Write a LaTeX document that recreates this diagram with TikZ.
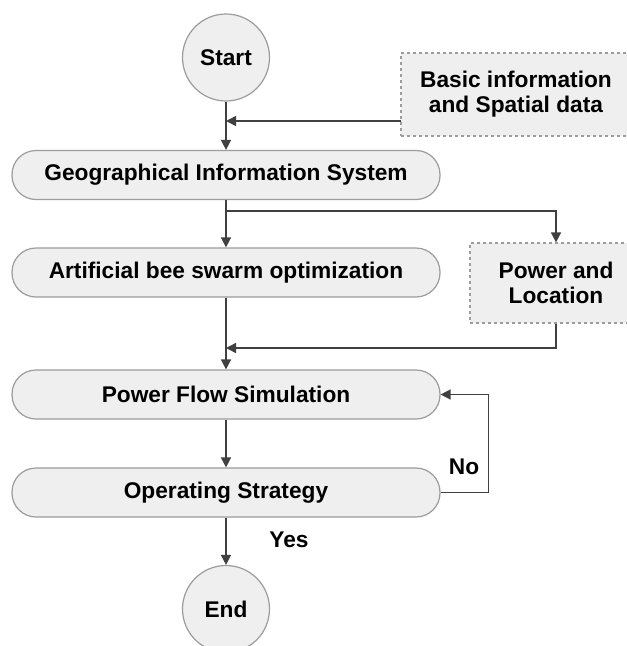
\documentclass[tikz,border=0pt]{standalone}
\usepackage{fontspec}
\setmainfont{Liberation Sans}
\usetikzlibrary{arrows.meta}
\definecolor{boxfill}{HTML}{EFEFEF}
\definecolor{boxline}{HTML}{9C9C9C}
\definecolor{arrcol}{HTML}{404040}
\begin{document}
\begin{tikzpicture}[x=1pt,y=-1pt,
  txt/.style={font=\fontsize{22.7}{25}\selectfont\bfseries, text=black},
  proc/.style={txt, draw=boxline, fill=boxfill, line width=1.2pt, rounded corners=24pt,
    minimum width=428pt, minimum height=49pt, inner sep=0pt},
  term/.style={txt, circle, draw=boxline, fill=boxfill, line width=1.2pt, minimum size=87pt, inner sep=0pt},
  datab/.style={txt, draw=boxline, fill=boxfill, dashed, line width=1.2pt, align=center, inner sep=0pt},
  flow/.style={draw=arrcol, line width=1.5pt, -{Triangle[length=10pt,width=10pt]}},
  lbl/.style={txt}]
\useasboundingbox (0,0) rectangle (627,646);
\clip (0,0) rectangle (627,646);
\fill[white] (0,0) rectangle (627,646);

\node[term] (start) at (226,57.5) {Start};
\node[datab, minimum width=230pt, minimum height=83pt] (basic) at (516,94.5) {Basic information\\and Spatial data};
\node[proc] (gis) at (226,175) {Geographical Information System};
\node[proc] (abso) at (226,272.5) {Artificial bee swarm optimization};
\node[datab, minimum width=172pt, minimum height=80pt] (pl) at (556,283) {Power and\\Location};
\node[proc] (pfs) at (226,394.5) {Power Flow Simulation};
\node[proc] (os) at (226,492.5) {Operating Strategy};
\node[term] (end) at (226,609) {End};

\coordinate (bin) at (401,121);
\coordinate (br) at (226,211);
\coordinate (join) at (226,348);

\draw[flow] (start) -- (gis);
\draw[flow] (bin) -- (bin -| start);
\draw[flow] (gis) -- (abso);
\draw[flow] (br) -| (pl.north);
\draw[flow] (pl.south) |- (join);
\draw[flow] (abso) -- (pfs);
\draw[flow] (pfs) -- (os);
\draw[flow] (os) -- (end);
\draw[flow] (os.east) -| ([xshift=48pt]pfs.east) -- (pfs.east);

\node[lbl] (no) at (464,467) {No};
\node[lbl] (yes) at (289,540) {Yes};
\end{tikzpicture}
\end{document}
